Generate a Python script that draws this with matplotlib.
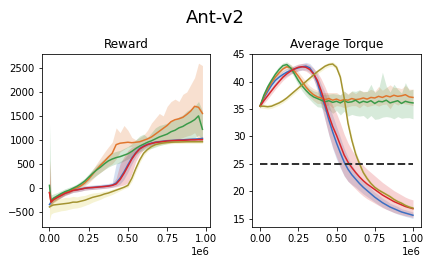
import matplotlib
matplotlib.use("Agg")
import numpy as np
import matplotlib.pyplot as plt
from matplotlib.ticker import MultipleLocator

# Reward panel: steps and per-run mean / band edges
reward_steps = [0, 10000] + [25000 * i for i in range(1, 40)]

reward_blue = [-350, -300, -230, -190, -150, -110, -80, -50, -40, -25, -10, 0, 5, 15, 20, 30, 40, 55,
               100, 200, 330, 480, 620, 730, 820, 870, 905, 930, 950, 960, 970, 980, 985, 990, 995,
               1000, 1005, 1010, 1015, 1020, 1030]
reward_blue_lo = [-400, -350, -280, -240, -200, -160, -130, -100, -85, -70, -50, -40, -35, -25, -20, -10,
                  0, 10, 40, 80, 180, 330, 500, 650, 760, 830, 870, 900, 920, 930, 940, 950, 955, 960,
                  965, 970, 975, 980, 985, 990, 1000]
reward_blue_hi = [-300, -250, -180, -140, -100, -60, -30, 0, 10, 25, 40, 50, 55, 65, 70, 80, 90, 110,
                  500, 550, 600, 700, 780, 830, 880, 910, 940, 960, 980, 990, 1000, 1010, 1015, 1020,
                  1025, 1030, 1035, 1040, 1045, 1050, 1060]

reward_orange = [-100, -300, -250, -200, -150, -100, -70, -30, 0, 40, 100, 180, 280, 380, 470, 550, 640,
                 720, 900, 930, 940, 950, 940, 950, 960, 990, 1020, 1060, 1120, 1180, 1240, 1300, 1380,
                 1420, 1440, 1470, 1530, 1600, 1700, 1680, 1550]
reward_orange_lo = [-300, -400, -320, -260, -200, -150, -120, -80, -50, -10, 40, 100, 180, 260, 320, 380,
                    450, 500, 600, 750, 800, 850, 860, 880, 900, 910, 920, 930, 940, 950, 960, 970, 990,
                    1000, 1020, 1050, 1080, 1100, 1150, 1000, 950]
reward_orange_hi = [600, -200, -180, -140, -100, -50, -20, 20, 50, 100, 170, 260, 380, 500, 620, 740, 850,
                    950, 1250, 1150, 1300, 1200, 1050, 1000, 1050, 1100, 1200, 1350, 1450, 1550, 1500,
                    1700, 1800, 1850, 1800, 1950, 2000, 2150, 2300, 2600, 2550]

reward_green = [50, -280, -220, -170, -120, -80, -50, -10, 30, 80, 140, 220, 300, 370, 430, 500, 560, 600,
                630, 650, 680, 710, 760, 820, 870, 910, 950, 980, 1020, 1060, 1090, 1120, 1170, 1200,
                1250, 1280, 1330, 1370, 1420, 1500, 1220]
reward_green_lo = [-300, -380, -300, -240, -190, -140, -110, -60, -20, 20, 70, 140, 200, 260, 320, 380,
                   430, 470, 500, 520, 560, 600, 650, 700, 750, 780, 800, 820, 850, 880, 900, 920, 940,
                   950, 970, 980, 1000, 1020, 1040, 1100, 1000]
reward_green_hi = [1370, -150, -130, -100, -60, -20, 10, 40, 80, 140, 200, 290, 380, 470, 540, 610, 680,
                   730, 760, 780, 820, 860, 920, 1000, 1080, 1120, 1050, 1150, 1250, 1300, 1320, 1350,
                   1400, 1420, 1480, 1520, 1600, 1650, 1700, 1800, 1600]

reward_red = [-100, -300, -250, -200, -160, -115, -90, -55, -45, -30, -10, 0, 5, 10, 20, 25, 35, 50, 80,
              170, 300, 450, 600, 720, 810, 860, 900, 925, 945, 955, 965, 975, 980, 985, 990, 990, 995,
              1000, 1000, 1005, 1005]
reward_red_lo = [-450, -350, -300, -250, -210, -160, -130, -95, -85, -70, -50, -40, -35, -30, -20, -15,
                 -5, 10, 20, 40, 60, 100, 300, 550, 700, 800, 850, 880, 905, 915, 925, 935, 940, 945,
                 950, 950, 955, 960, 960, 965, 965]
reward_red_hi = [580, -250, -200, -150, -110, -70, -50, -15, -5, 10, 30, 40, 45, 50, 60, 65, 75, 90, 200,
                 500, 650, 780, 850, 880, 900, 920, 945, 965, 985, 995, 1005, 1015, 1020, 1025, 1030,
                 1030, 1035, 1040, 1040, 1045, 1045]

reward_olive = [-400, -380, -360, -350, -340, -330, -320, -300, -300, -280, -260, -230, -200, -180, -160,
                -130, -110, -80, -50, -20, 10, 50, 200, 400, 580, 720, 800, 860, 900, 920, 935, 945, 950,
                955, 955, 958, 960, 960, 960, 960, 960]
reward_olive_lo = [-680, -550, -520, -500, -480, -470, -450, -430, -420, -400, -370, -340, -300, -270,
                   -240, -200, -170, -140, -100, -60, -20, 10, 130, 330, 520, 670, 760, 830, 870, 890,
                   905, 915, 920, 925, 925, 928, 930, 930, 930, 930, 930]
reward_olive_hi = [-200, -220, -220, -210, -220, -200, -200, -180, -190, -170, -160, -130, -110, -100,
                   -90, -70, -60, -30, -5, 20, 50, 100, 270, 470, 640, 770, 840, 890, 930, 950, 965, 975,
                   980, 985, 985, 988, 990, 990, 990, 990, 990]

# Average torque panel
torque_steps = [25000 * i for i in range(41)]

torque_blue = [35.5, 37.0, 38.2, 39.3, 40.2, 40.8, 41.3, 41.7, 42.0, 42.3, 42.5, 42.7, 42.8, 42.5, 41.5,
               39.8, 37.5, 35.5, 33.0, 30.8, 28.8, 27.0, 25.3, 24.0, 23.0, 22.2, 21.4, 20.7, 20.1, 19.5,
               18.9, 18.4, 17.9, 17.5, 17.1, 16.8, 16.5, 16.2, 16.0, 15.8, 15.6]
torque_blue_sd = [0.3, 0.6, 0.7, 0.7, 0.7, 0.7, 0.7, 0.7, 0.6, 0.6, 0.6, 0.6, 0.7, 0.8, 1.0, 1.5, 2.0,
                  2.5, 2.8, 3.0, 3.0, 2.8, 2.5, 2.2, 1.8, 1.5, 1.3, 1.2, 1.1, 1.0, 0.9, 0.9, 0.8, 0.8,
                  0.7, 0.7, 0.7, 0.6, 0.6, 0.6, 0.6]

torque_orange = [35.5, 37.2, 38.6, 39.8, 40.8, 41.6, 42.3, 42.7, 42.5, 41.9, 41.0, 40.0, 39.0, 38.2, 37.6,
                 37.2, 37.0, 36.7, 36.9, 36.6, 36.8, 36.5, 36.7, 36.6, 36.9, 36.7, 36.8, 37.0, 36.8, 37.1,
                 37.0, 37.3, 37.1, 37.4, 37.2, 37.5, 37.3, 37.4, 37.6, 37.2, 37.1]
torque_orange_sd = [0.3, 0.5, 0.5, 0.5, 0.5, 0.5, 0.5, 0.5, 0.6, 0.7, 0.8, 0.9, 1.0, 1.0, 1.1, 1.2, 1.0,
                    1.3, 1.1, 1.4, 1.2, 1.0, 1.5, 1.2, 1.3, 1.1, 1.6, 1.2, 1.4, 1.5, 1.2, 1.8, 1.3, 1.5,
                    2.2, 1.4, 1.6, 1.3, 1.7, 1.4, 1.5]

torque_green = [35.5, 37.5, 39.0, 40.2, 41.3, 42.2, 42.9, 43.1, 42.5, 41.4, 40.2, 39.2, 38.4, 37.7, 37.2,
                36.9, 36.6, 36.3, 36.5, 36.2, 36.4, 36.1, 36.5, 36.2, 36.3, 36.6, 36.1, 36.4, 36.2, 36.5,
                36.0, 36.4, 36.3, 36.6, 36.1, 36.3, 36.5, 36.0, 36.4, 36.2, 36.1]
torque_green_dn = [0.3, 0.5, 0.6, 0.6, 0.6, 0.6, 0.5, 0.5, 0.6, 0.7, 0.8, 0.9, 1.0, 1.0, 1.2, 1.5, 1.3,
                   1.8, 1.6, 2.0, 1.7, 2.2, 1.9, 2.5, 2.3, 2.8, 2.4, 2.6, 3.0, 2.7, 2.9, 3.2, 2.8, 3.0,
                   2.6, 3.1, 2.9, 2.7, 3.0, 2.8, 2.9]
torque_green_up = [0.3, 0.5, 0.6, 0.6, 0.6, 0.6, 0.5, 0.5, 0.6, 0.7, 0.8, 0.9, 1.0, 1.0, 1.1, 1.2, 1.0,
                   1.4, 1.2, 1.6, 1.3, 1.5, 1.8, 1.4, 2.0, 1.6, 2.4, 1.7, 2.0, 3.0, 2.0, 2.2, 5.4, 2.6,
                   2.0, 3.2, 2.1, 1.9, 3.4, 2.2, 2.5]

torque_red = [35.5, 36.5, 37.4, 38.3, 39.2, 40.0, 40.8, 41.4, 41.9, 42.3, 42.6, 42.7, 42.6, 42.2, 41.4,
              40.2, 38.3, 36.0, 33.8, 31.8, 30.2, 28.4, 26.6, 25.3, 24.3, 23.4, 22.6, 21.9, 21.3, 20.8,
              20.3, 19.8, 19.3, 18.9, 18.5, 18.1, 17.8, 17.5, 17.2, 17.0, 16.8]
torque_red_sd = [0.3, 0.5, 0.6, 0.6, 0.6, 0.6, 0.6, 0.6, 0.6, 0.6, 0.6, 0.6, 0.7, 0.8, 1.0, 1.5, 2.2,
                 3.0, 3.5, 3.8, 4.0, 4.0, 3.8, 3.5, 3.2, 3.0, 2.9, 2.8, 2.7, 2.6, 2.5, 2.4, 2.3, 2.2,
                 2.1, 2.0, 1.9, 1.8, 1.7, 1.6, 1.6]

torque_olive = [35.5, 35.5, 35.4, 35.5, 35.8, 36.1, 36.5, 37.0, 37.6, 38.2, 38.8, 39.4, 40.0, 40.6, 41.2,
                41.8, 42.3, 42.8, 43.1, 43.2, 42.6, 40.8, 37.0, 32.4, 29.3, 26.8, 25.0, 23.4, 22.3, 21.4,
                20.7, 20.2, 19.8, 19.4, 19.0, 18.5, 18.1, 17.8, 17.4, 17.1, 16.9]
torque_olive_sd = [0.3, 0.4, 0.4, 0.4, 0.4, 0.4, 0.4, 0.4, 0.4, 0.4, 0.4, 0.4, 0.4, 0.4, 0.4, 0.4, 0.4,
                   0.4, 0.4, 0.4, 0.5, 0.6, 0.7, 0.8, 0.7, 0.6, 0.5, 0.4, 0.4, 0.3, 0.3, 0.3, 0.3, 0.3,
                   0.3, 0.3, 0.3, 0.3, 0.3, 0.3, 0.3]

torque_limit = 25

c_blue, c_orange, c_green, c_red = '#3b6fc2', '#e0752d', '#3a9a48', '#d8262b'
c_olive, c_olive_band = '#a39330', '#d6cc3e'

fig, (ax1, ax2) = plt.subplots(1, 2, figsize=(431 / 72, 264 / 72), dpi=72)
fig.subplots_adjust(left=0.097, right=0.976, top=0.797, bottom=0.139, wspace=0.251)
fig.suptitle('Ant-v2', fontsize=18, y=0.965)

# Reward
x = np.array(reward_steps)
for m, lo, hi, c, bc in [(reward_blue, reward_blue_lo, reward_blue_hi, c_blue, c_blue),
                         (reward_orange, reward_orange_lo, reward_orange_hi, c_orange, c_orange),
                         (reward_green, reward_green_lo, reward_green_hi, c_green, c_green),
                         (reward_red, reward_red_lo, reward_red_hi, c_red, c_red),
                         (reward_olive, reward_olive_lo, reward_olive_hi, c_olive, c_olive_band)]:
    ax1.fill_between(x, lo, hi, color=bc, alpha=0.22, lw=0)
    ax1.plot(x, m, color=c, lw=1.5)
ax1.set_title('Reward', fontsize=12)
ax1.xaxis.set_major_locator(MultipleLocator(250000))
ax1.yaxis.set_major_locator(MultipleLocator(500))
ax1.set_ylim(-825, 2800)

# Average torque
t = np.array(torque_steps)
for m, dn, up, c, bc in [(torque_blue, torque_blue_sd, torque_blue_sd, c_blue, c_blue),
                         (torque_orange, torque_orange_sd, torque_orange_sd, c_orange, c_orange),
                         (torque_green, torque_green_dn, torque_green_up, c_green, c_green),
                         (torque_red, torque_red_sd, torque_red_sd, c_red, c_red),
                         (torque_olive, torque_olive_sd, torque_olive_sd, c_olive, c_olive_band)]:
    m = np.array(m)
    ax2.fill_between(t, m - np.array(dn), m + np.array(up), color=bc, alpha=0.2, lw=0)
    ax2.plot(t, m, color=c, lw=1.5)
ax2.plot([t[0], t[-1]], [torque_limit, torque_limit], color='#333333', lw=2, ls='--')
ax2.set_title('Average Torque', fontsize=12)
ax2.xaxis.set_major_locator(MultipleLocator(250000))
ax2.yaxis.set_major_locator(MultipleLocator(5))
ax2.set_ylim(13.4, 45.1)

for ax in (ax1, ax2):
    ax.tick_params(labelsize=10)

fig.savefig('out.png', dpi=72)
